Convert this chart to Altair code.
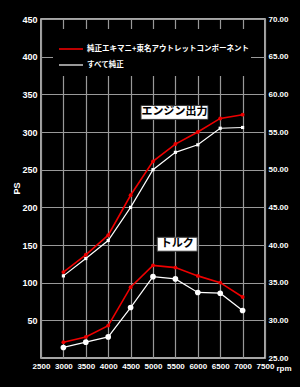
import altair as alt
import pandas as pd

rpm = [3000, 3500, 4000, 4500, 5000, 5500, 6000, 6500, 7000]
ps_mod = [114, 137, 163, 216, 261, 284, 300, 318, 323]
ps_stock = [109, 132, 156, 200, 250, 273, 283, 305, 306]
tq_mod = [27.1, 27.8, 29.3, 34.4, 37.3, 37.0, 35.9, 35.0, 33.1]
tq_stock = [26.4, 27.1, 27.8, 31.7, 35.8, 35.5, 33.7, 33.6, 31.3]
series = ["純正エキマニ+東名アウトレットコンポーネント", "すべて純正"]
colors = ["#ee0000", "#ffffff"]

x_ticks = [2500, 3000, 3500, 4000, 4500, 5000, 5500, 6000, 6500, 7000, 7500]
ps_ticks = [50, 100, 150, 200, 250, 300, 350, 400, 450]
tq_ticks = [25, 30, 35, 40, 45, 50, 55, 60, 65, 70]

ann_text = ["エンジン出力", "トルク"]
ann_rpm = [5480, 5540]
ann_ps = [326, 151]

df = pd.DataFrame({
    "rpm": rpm * 2,
    "ps": ps_mod + ps_stock,
    "tq": tq_mod + tq_stock,
    "series": [series[0]] * len(rpm) + [series[1]] * len(rpm),
})
ann = pd.DataFrame({"text": ann_text, "rpm": ann_rpm, "ps": ann_ps})

FONT = "Liberation Sans"
JFONT = "Noto Sans CJK JP"

xenc = alt.X("rpm:Q", scale=alt.Scale(domain=[2500, 7500], nice=False),
             axis=alt.Axis(values=x_ticks, tickCount=30, title="rpm", grid=True,
                           gridColor="#999999", gridWidth=1.2, ticks=False, domain=False,
                           labelColor="white", labelFont=FONT, labelFontSize=8,
                           labelFontWeight="bold", labelPadding=4, format="d",
                           labelOverlap=False, labelFlush=False,
                           titleColor="white", titleFont=FONT,
                           titleFontSize=8, titleFontWeight="bold", titleX=235, titleY=12,
                           titleAlign="left", titleBaseline="alphabetic"))

ps_axis = alt.Axis(orient="left", values=ps_ticks, tickCount=30, title="PS", grid=True,
                   gridColor="#999999", gridWidth=1.2, ticks=False, domain=False,
                   labelColor="white", labelFont=FONT, labelFontSize=9, labelFontWeight="bold",
                   labelPadding=4, labelOverlap=False, labelFlush=False, titleColor="white",
                   titleFont=FONT, titleFontSize=9, titleFontWeight="bold", titleAngle=270,
                   titleX=-25, titleY=169, titleAlign="center", titleBaseline="middle")
yps = alt.Y("ps:Q", scale=alt.Scale(domain=[0, 450], nice=False), axis=ps_axis)

tq_axis = alt.Axis(orient="right", values=tq_ticks, tickCount=30, title=None, grid=False,
                   ticks=False, domain=False, labelColor="white", labelFont=FONT,
                   labelFontSize=8, labelFontWeight="bold", labelPadding=3, format=".2f",
                   labelOverlap=False, labelFlush=False)
ytq = alt.Y("tq:Q", scale=alt.Scale(domain=[25, 70], nice=False), axis=tq_axis)

cscale = alt.Scale(domain=series, range=colors)
wscale = alt.Scale(domain=series, range=[1.6, 1.2])

base = alt.Chart(df)

legend_box = alt.Chart(ann).mark_rect(color="black").encode(
    x=alt.value(12), x2=alt.value(210), y=alt.value(10), y2=alt.value(57))

eng_line = base.mark_line().encode(
    x=xenc, y=yps,
    color=alt.Color("series:N", scale=cscale, sort=series,
                    legend=alt.Legend(orient="none", legendX=17, legendY=22, title=None,
                                      symbolType="stroke", symbolSize=576,
                                      symbolStrokeWidth=2.5, clipHeight=16, rowPadding=0,
                                      padding=0, labelOffset=3, labelColor="white",
                                      labelFont=JFONT, labelFontSize=7.5,
                                      labelFontWeight="bold", labelLimit=400)),
    strokeWidth=alt.StrokeWidth("series:N", scale=wscale, legend=None),
)
eng_red = base.transform_filter(alt.datum.series == series[0]).mark_circle(
    size=15, color=colors[0], opacity=1).encode(x="rpm:Q", y="ps:Q")
eng_white = base.transform_filter(alt.datum.series == series[1]).mark_square(
    size=10, color=colors[1], opacity=1).encode(x="rpm:Q", y="ps:Q")

box1 = alt.Chart(ann).transform_filter(alt.datum.text == ann_text[0]).mark_rect(
    width=67, height=14, fill="white", stroke="#333333", strokeWidth=1).encode(x="rpm:Q", y="ps:Q")
box2 = alt.Chart(ann).transform_filter(alt.datum.text == ann_text[1]).mark_rect(
    width=40, height=14, fill="white", stroke="#333333", strokeWidth=1).encode(x="rpm:Q", y="ps:Q")
ann_txt = alt.Chart(ann).mark_text(font=JFONT, fontSize=11, fontWeight="bold", color="black",
                                   align="center", baseline="middle").encode(
    x="rpm:Q", y="ps:Q", text="text:N")

engine = alt.layer(legend_box, eng_line, eng_white, eng_red, box1, box2, ann_txt)

tq_line = base.mark_line().encode(
    x="rpm:Q", y=ytq,
    color=alt.Color("series:N", scale=cscale, legend=None),
    strokeWidth=alt.StrokeWidth("series:N", scale=wscale, legend=None),
)
tq_white = base.transform_filter(alt.datum.series == series[1]).mark_circle(
    size=32, color=colors[1], opacity=1).encode(x="rpm:Q", y="tq:Q")
tq_red = base.transform_filter(alt.datum.series == series[0]).mark_circle(
    size=15, color=colors[0], opacity=1).encode(x="rpm:Q", y="tq:Q")

torque = alt.layer(tq_line, tq_white, tq_red)

chart = alt.layer(engine, torque).resolve_scale(y="independent").properties(
    width=224, height=339, background="black",
    autosize=alt.AutoSizeParams(type="none"),
    padding={"left": 41, "top": 19, "right": 35, "bottom": 29},
).configure_view(stroke="#dddddd", strokeWidth=1.5)

chart.save("out.html", embed_options={"renderer": "svg", "actions": False})
